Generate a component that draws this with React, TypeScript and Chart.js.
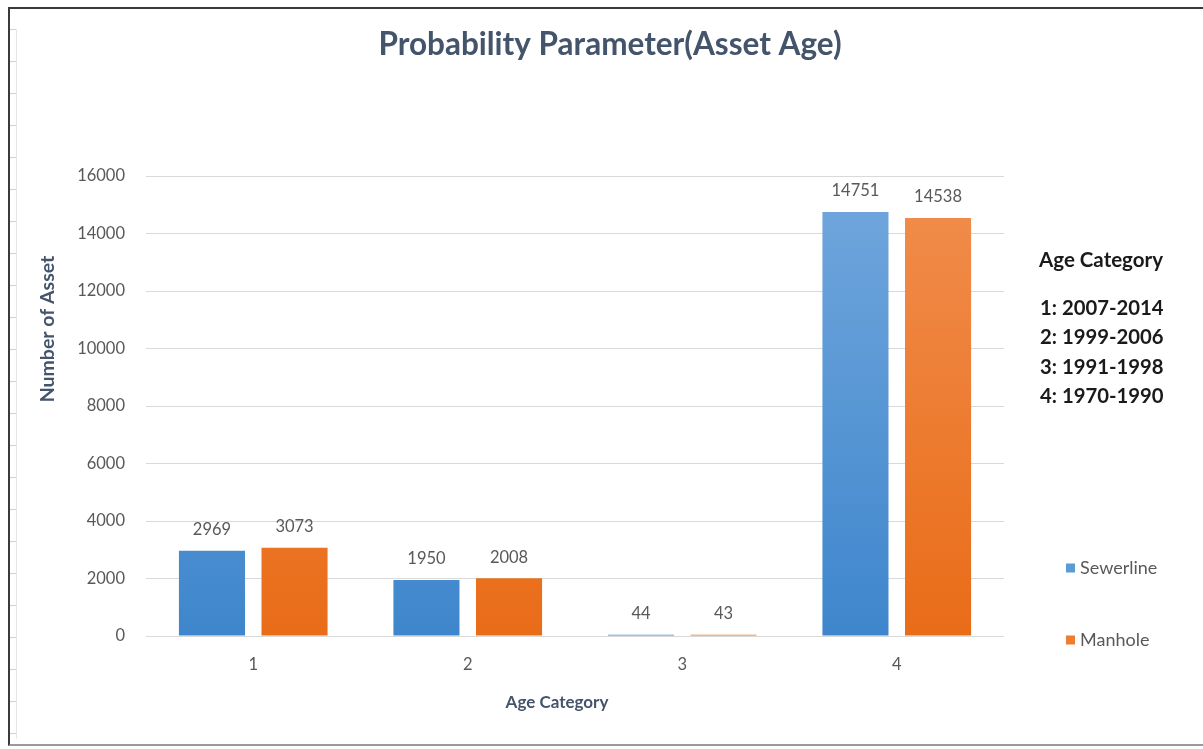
import React, { useEffect, useRef } from "react";
import { Chart, registerables } from "chart.js";

Chart.register(...registerables);

const categories = ["1", "2", "3", "4"];
const sewerline = [2969, 1950, 44, 14751];
const manhole = [3073, 2008, 43, 14538];
const seriesNames = ["Sewerline", "Manhole"];
const yTicks = [0, 2000, 4000, 6000, 8000, 10000, 12000, 14000, 16000];
const chartTitle = "Probability Parameter(Asset Age)";
const xTitle = "Age Category";
const yTitle = "Number of Asset";
const sideTitle = "Age Category";
const sideLines = ["1: 2007-2014", "2: 1999-2006", "3: 1991-1998", "4: 1970-1990"];

const FONT = "Lato, 'Open Sans', sans-serif";
const BLUE = "#5B9BD5";
const ORANGE = "#ED7D31";

function grad(ctx: any, top: string, bottom: string, fallback: string) {
  const chart = ctx.chart;
  const area = chart.chartArea;
  if (!area) return fallback;
  const g = chart.ctx.createLinearGradient(0, area.top, 0, area.bottom);
  g.addColorStop(0, top);
  g.addColorStop(1, bottom);
  return g;
}

const valueLabels = {
  id: "valueLabels",
  afterDatasetsDraw(chart: any) {
    const ctx = chart.ctx;
    ctx.save();
    ctx.font = `16.5px ${FONT}`;
    ctx.fillStyle = "#595959";
    ctx.textAlign = "center";
    ctx.textBaseline = "middle";
    chart.data.datasets.forEach((ds: any, i: number) => {
      const meta = chart.getDatasetMeta(i);
      meta.data.forEach((el: any, j: number) => {
        ctx.fillText(String(ds.data[j]), el.x, el.y - 21);
      });
    });
    ctx.restore();
  },
};

const textPanel = {
  id: "textPanel",
  afterDraw(chart: any) {
    const ctx = chart.ctx;
    ctx.save();
    ctx.textBaseline = "middle";
    // chart title
    ctx.textAlign = "center";
    ctx.fillStyle = "#44546A";
    ctx.font = `bold 31.5px ${FONT}`;
    ctx.fillText(chartTitle, 610, 45);
    // x title
    ctx.font = `bold 17px ${FONT}`;
    ctx.fillText(xTitle, 557, 703);
    // y title
    ctx.save();
    ctx.translate(48, 329);
    ctx.rotate(-Math.PI / 2);
    ctx.font = `bold 19.5px ${FONT}`;
    ctx.fillText(yTitle, 0, 0);
    ctx.restore();
    // side panel
    ctx.textAlign = "left";
    ctx.fillStyle = "#1a1a1a";
    ctx.font = `bold 20.5px ${FONT}`;
    ctx.fillText(sideTitle, 1039, 260);
    ctx.font = `bold 20.3px ${FONT}`;
    sideLines.forEach((t, i) => {
      ctx.fillText(t, 1040, 308 + i * 29.5);
    });
    // legend
    const ys = [568, 640];
    chart.data.datasets.forEach((ds: any, i: number) => {
      ctx.fillStyle = ds.legendColor;
      ctx.fillRect(1066, ys[i] - 4.5, 9, 9);
      ctx.fillStyle = "#595959";
      ctx.font = `18px ${FONT}`;
      ctx.fillText(ds.label, 1080, ys[i]);
    });
    ctx.restore();
  },
};

export default function App() {
  const ref = useRef<HTMLCanvasElement | null>(null);
  useEffect(() => {
    if (!ref.current) return;
    const chart = new Chart(ref.current, {
      type: "bar",
      data: {
        labels: categories,
        datasets: [
          {
            label: seriesNames[0],
            data: sewerline,
            backgroundColor: (c: any) => grad(c, "#72A7DD", "#3E86CC", BLUE),
            legendColor: BLUE,
            barPercentage: 0.8,
            categoryPercentage: 0.77,
          } as any,
          {
            label: seriesNames[1],
            data: manhole,
            backgroundColor: (c: any) => grad(c, "#F18E4E", "#E96C18", ORANGE),
            legendColor: ORANGE,
            barPercentage: 0.8,
            categoryPercentage: 0.77,
          } as any,
        ],
      },
      options: {
        responsive: false,
        animation: false,
        layout: { padding: { left: 0, right: 199, top: 176, bottom: 0 } },
        plugins: {
          legend: { display: false },
          tooltip: { enabled: false },
          title: { display: false },
        },
        scales: {
          x: {
            grid: { display: false, drawTicks: false },
            border: { display: false },
            ticks: { color: "#595959", font: { family: FONT, size: 16.5 }, padding: 19 },
            afterFit(scale: any) {
              scale.height = 113;
            },
          },
          y: {
            min: 0,
            max: 16000,
            afterBuildTicks(scale: any) {
              scale.ticks = yTicks.map((v) => ({ value: v }));
            },
            grid: { color: "#D9D9D9", drawTicks: false },
            border: { display: false },
            ticks: {
              color: "#595959",
              font: { family: FONT, size: 16.5 },
              padding: 21,
              callback: (v: any) => String(v),
            },
            afterFit(scale: any) {
              scale.width = 146;
            },
          },
        },
      },
      plugins: [valueLabels, textPanel],
    });
    return () => chart.destroy();
  }, []);

  return (
    <div style={{ position: "fixed", left: 0, top: 0, width: 1203, height: 749, background: "#fff", overflow: "hidden" }}>
      <div
        style={{
          position: "absolute",
          left: 8,
          top: 7,
          width: 1200,
          height: 739,
          borderTop: "2px solid #3a3a3a",
          borderLeft: "2px solid #3a3a3a",
          borderBottom: "2px solid #9a9a9a",
          boxSizing: "border-box",
        }}
      />
      <div
        style={{
          position: "absolute",
          left: 10,
          top: 29,
          width: 6,
          height: 710,
          borderRight: "1px solid #e6e6e6",
          backgroundImage: "repeating-linear-gradient(to bottom, #cfcfcf 0px, #cfcfcf 1px, transparent 1px, transparent 32px)",
        }}
      />
      <canvas ref={ref} width={1203} height={749} style={{ position: "absolute", left: 0, top: 0, width: 1203, height: 749 }} />
    </div>
  );
}
